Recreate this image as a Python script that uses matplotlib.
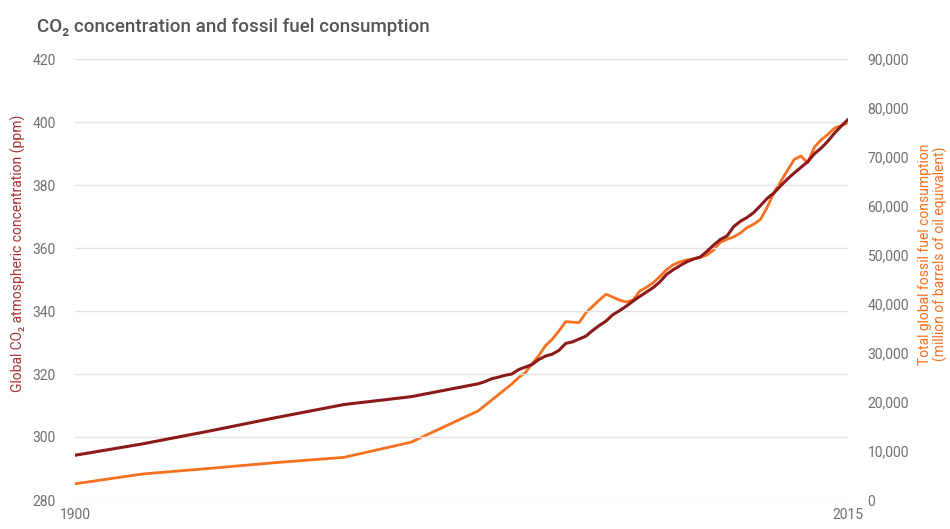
import matplotlib.pyplot as plt
from matplotlib.ticker import FuncFormatter

plt.rcParams['font.family'] = ['Roboto', 'DejaVu Sans']

# CO2 concentration (ppm)
co2_years = [1900, 1910, 1920, 1930, 1940, 1950] + list(range(1960, 2016))
co2_ppm = [294.2, 297.8, 301.9, 306.2, 310.3, 312.8,
           316.9, 317.6, 318.5, 319.0, 319.6, 320.0, 321.4, 322.2, 323.0, 324.6,
           325.7, 326.3, 327.5, 329.7, 330.2, 331.1, 332.0, 333.8, 335.4, 336.8,
           338.8, 340.1, 341.5, 343.1, 344.6, 346.0, 347.4, 349.2, 351.6, 353.1,
           354.4, 355.6, 356.5, 357.1, 358.9, 360.9, 362.7, 363.8, 366.8, 368.5,
           369.7, 371.3, 373.5, 375.8, 377.5, 379.8, 381.9, 383.8, 385.6, 387.4,
           389.9, 391.7, 393.9, 396.5, 398.7, 400.8]

# fossil fuel consumption (million barrels of oil equivalent)
fuel_years = [1900, 1910, 1920, 1930, 1940, 1950, 1960] + list(range(1965, 2016))
fuel_mboe = [3300, 5300, 6450, 7650, 8700, 11800, 18200,
             23700, 25000, 26000, 27800, 29500, 31500, 32800, 34500, 36400, 36300,
             36200, 38200, 39500, 40800, 42000, 41400, 40800, 40400, 40800, 42600,
             43400, 44300, 45600, 47000, 48000, 48600, 49000, 49200, 49500, 50000,
             51000, 52600, 53200, 53700, 54500, 55600, 56300, 57300, 59800, 62800,
             65000, 67300, 69500, 70200, 68800, 72000, 73500, 74600, 75900, 76400,
             77000]

co2_color = '#8c1a1a'
fuel_color = '#f5701f'
tick_color = '#6f6f6f'

fig = plt.figure(figsize=(9.5, 5.29), dpi=100)
ax = fig.add_axes([75 / 950, 1 - 500 / 529, 773 / 950, 441 / 529])
ax2 = ax.twinx()

ax.plot(co2_years, co2_ppm, color=co2_color, lw=2.2, solid_capstyle='round', zorder=3)
ax2.plot(fuel_years, fuel_mboe, color=fuel_color, lw=2.0, solid_capstyle='round', zorder=3)

ax.set_xlim(1900, 2015)
ax.set_ylim(280, 420)
ax2.set_ylim(0, 90000)
ax.set_yticks(range(280, 421, 20))
ax2.set_yticks(range(0, 90001, 10000))
ax2.yaxis.set_major_formatter(FuncFormatter(lambda v, p: f'{int(v):,}'))
ax.set_xticks([1900, 2015])

ax.grid(axis='y', color='#e2e2e2', lw=1)
ax.set_axisbelow(True)
for a in (ax, ax2):
    for s in a.spines.values():
        s.set_visible(False)
    a.tick_params(length=0, labelsize=10, labelcolor=tick_color)
ax.tick_params(axis='y', pad=14)
ax2.tick_params(axis='y', pad=14)
ax.tick_params(axis='x', pad=6)
ax.set_zorder(ax2.get_zorder() + 1)
ax.patch.set_visible(False)

fig.text(37 / 950, 1 - 27 / 529, 'CO₂ concentration and fossil fuel consumption',
         fontsize=13.5, color='#555555', fontweight='medium', va='center', ha='left')
fig.text(18 / 950, 1 - 253 / 529, 'Global CO₂ atmospheric concentration (ppm)',
         rotation=90, fontsize=10, color='#a83232', va='center', ha='center')
fig.text(933 / 950, 1 - 254 / 529,
         'Total global fossil fuel consumption\n(million of barrels of oil equivalent)',
         rotation=90, fontsize=10, color=fuel_color, va='center', ha='center',
         linespacing=1.1)

plt.savefig('out.png', dpi=100)
